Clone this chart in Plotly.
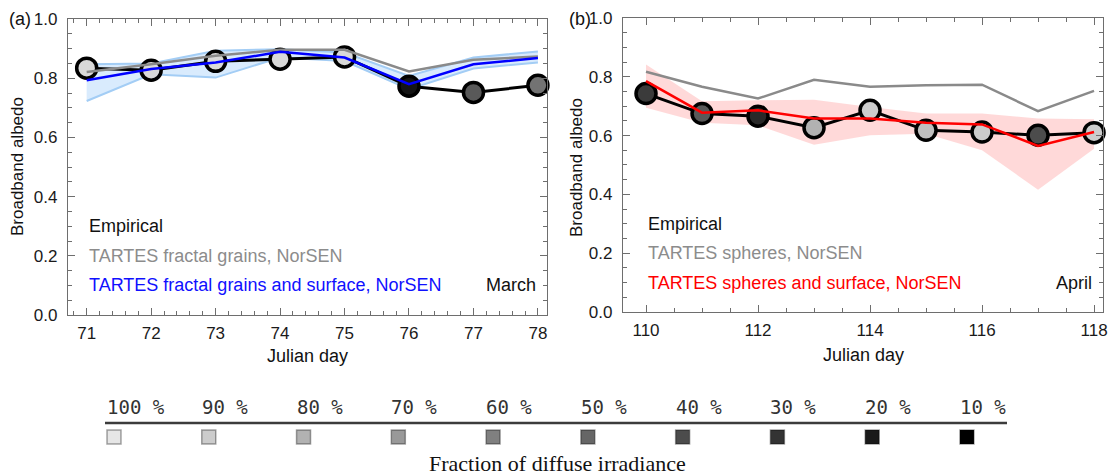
import plotly.graph_objects as go

# ---------------- data ----------------
days_a = [71, 72, 73, 74, 75, 76, 77, 78]
emp_a = [0.834, 0.827, 0.857, 0.864, 0.872, 0.773, 0.752, 0.776]
diffuse_a = [95, 95, 95, 95, 95, 18, 45, 55]
tartes_a = [0.821, 0.847, 0.876, 0.896, 0.896, 0.823, 0.862, 0.873]
surf_a = [0.793, 0.831, 0.853, 0.889, 0.870, 0.780, 0.847, 0.868]
surf_a_hi = [0.847, 0.850, 0.893, 0.898, 0.887, 0.808, 0.870, 0.890]
surf_a_lo = [0.723, 0.813, 0.802, 0.870, 0.858, 0.763, 0.833, 0.853]

days_b = [110, 111, 112, 113, 114, 115, 116, 117, 118]
emp_b = [0.743, 0.675, 0.666, 0.627, 0.686, 0.618, 0.612, 0.601, 0.610]
diffuse_b = [33, 45, 26, 80, 90, 85, 90, 40, 90]
tartes_b = [0.817, 0.766, 0.726, 0.790, 0.766, 0.771, 0.773, 0.683, 0.752]
surf_b = [0.785, 0.678, 0.686, 0.658, 0.658, 0.644, 0.638, 0.565, 0.612]
surf_b_hi = [0.842, 0.717, 0.720, 0.722, 0.697, 0.675, 0.675, 0.658, 0.656]
surf_b_lo = [0.695, 0.644, 0.635, 0.569, 0.601, 0.606, 0.550, 0.416, 0.555]

legend_fracs = [100, 90, 80, 70, 60, 50, 40, 30, 20, 10]
legend_labels = ["100 %", "90 %", "80 %", "70 %", "60 %", "50 %", "40 %", "30 %", "20 %", "10 %"]


def gray(frac):
    v = int(round(max(0, min(255, 255 * (frac - 10) / 100))))
    return f"rgb({v},{v},{v})"


SANS = "Liberation Sans, Arial, sans-serif"
fig = go.Figure()


def add_panel(xa, ya, days, emp, diff, tartes, surf, hi, lo, color, band_fill, band_line, band_w):
    fig.add_trace(go.Scatter(x=days, y=hi, mode="lines", xaxis=xa, yaxis=ya,
                             line=dict(color=band_line, width=band_w), showlegend=False, hoverinfo="skip"))
    fig.add_trace(go.Scatter(x=days, y=lo, mode="lines", xaxis=xa, yaxis=ya, fill="tonexty",
                             fillcolor=band_fill, line=dict(color=band_line, width=band_w),
                             showlegend=False, hoverinfo="skip"))
    fig.add_trace(go.Scatter(x=days, y=emp, mode="lines+markers", xaxis=xa, yaxis=ya,
                             line=dict(color="black", width=3),
                             marker=dict(size=20, color=[gray(f) for f in diff],
                                         line=dict(color="black", width=3.5)),
                             cliponaxis=False, showlegend=False))
    fig.add_trace(go.Scatter(x=days, y=tartes, mode="lines", xaxis=xa, yaxis=ya,
                             line=dict(color="#8a8a8a", width=2.5), showlegend=False))
    fig.add_trace(go.Scatter(x=days, y=surf, mode="lines", xaxis=xa, yaxis=ya,
                             line=dict(color=color, width=2.5), showlegend=False))


add_panel("x", "y", days_a, emp_a, diffuse_a, tartes_a, surf_a, surf_a_hi, surf_a_lo,
          "#0000ff", "rgba(170,210,250,0.45)", "#a3cdf5", 2)
add_panel("x2", "y2", days_b, emp_b, diffuse_b, tartes_b, surf_b, surf_b_hi, surf_b_lo,
          "#ff0000", "rgba(255,120,120,0.28)", "rgba(0,0,0,0)", 0)

# legend squares (fraction of diffuse irradiance)
fig.add_trace(go.Scatter(x=list(range(len(legend_fracs))), y=[0] * len(legend_fracs),
                         mode="markers", xaxis="x3", yaxis="y3",
                         marker=dict(symbol="square", size=14,
                                     color=[gray(f) for f in legend_fracs],
                                     line=dict(color="rgba(0,0,0,0.35)", width=1.5)),
                         showlegend=False, hoverinfo="skip"))

ax_common = dict(showline=True, linecolor="#6e6e6e", linewidth=1.3, mirror="allticks",
                 ticks="inside", ticklen=7, tickwidth=1.2, tickcolor="#6e6e6e",
                 showgrid=False, zeroline=False, automargin=False,
                 tickfont=dict(family=SANS, size=17, color="#1a1a1a"))

yax = dict(ax_common, range=[0, 1], dtick=0.2, tick0=0, tickformat=".1f",
           minor=dict(ticks="inside", ticklen=4, dtick=0.05, tickcolor="#6e6e6e", tickwidth=1),
           ticklabelstandoff=6)

fig.update_layout(
    width=1111, height=475,
    margin=dict(l=0, r=0, t=0, b=0, pad=0, autoexpand=False),
    paper_bgcolor="white", plot_bgcolor="white",
    xaxis=dict(ax_common, domain=[0.0612, 0.4923], range=[70.71, 78.14], dtick=1, tick0=71,
               minor=dict(ticks="inside", ticklen=4, dtick=0.2, tickcolor="#6e6e6e", tickwidth=1),
               anchor="y", ticklabelstandoff=2),
    yaxis=dict(yax, domain=[0.3368, 0.96], anchor="x"),
    xaxis2=dict(ax_common, domain=[0.5608, 0.9928], range=[109.59, 118.16], dtick=2, tick0=110,
                minor=dict(ticks="inside", ticklen=4, dtick=0.5, tickcolor="#6e6e6e", tickwidth=1),
                anchor="y2", ticklabelstandoff=2),
    yaxis2=dict(yax, domain=[0.3432, 0.9621], anchor="x2"),
    xaxis3=dict(domain=[0.05995, 0.9130], range=[-0.5, 9.5], visible=False, anchor="y3",
                automargin=False),
    yaxis3=dict(domain=[0.0589, 0.1011], range=[-1, 1], visible=False, anchor="x3",
                automargin=False),
)

ann = []
def txt(text, x, y, xref, yref, color="#111", size=18, xanchor="left", family=SANS, **kw):
    ann.append(dict(text=text, x=x, y=y, xref=xref, yref=yref, showarrow=False,
                    xanchor=xanchor, yanchor="middle",
                    font=dict(family=family, size=size, color=color), **kw))

# in-panel legend texts
txt("Empirical", 71, 0.30, "x", "y")
txt("TARTES fractal grains, NorSEN", 71, 0.20, "x", "y", color="#8c8c8c")
txt("TARTES fractal grains and surface, NorSEN", 71, 0.10, "x", "y", color="#1010ff")
txt("March", 78, 0.10, "x", "y", xanchor="right")
txt("Empirical", 110, 0.30, "x2", "y2")
txt("TARTES spheres, NorSEN", 110, 0.20, "x2", "y2", color="#8c8c8c")
txt("TARTES spheres and surface, NorSEN", 110, 0.10, "x2", "y2", color="#ff0000")
txt("April", 118, 0.10, "x2", "y2", xanchor="right")

# panel labels and axis titles
txt("(a)", 0.006, 1 - 19 / 475, "paper", "paper", size=18)
txt("(b)", 567 / 1111, 1 - 19 / 475, "paper", "paper", size=18)
txt("Julian day", (0.0612 + 0.4923) / 2, 1 - 356 / 475, "paper", "paper", xanchor="center")
txt("Julian day", (0.5608 + 0.9928) / 2, 1 - 355 / 475, "paper", "paper", xanchor="center")
txt("Broadband albedo", 18 / 1111, 1 - 167 / 475, "paper", "paper", size=17, xanchor="center", textangle=-90)
txt("Broadband albedo", 577 / 1111, 1 - 167 / 475, "paper", "paper", size=17, xanchor="center", textangle=-90)

# bottom legend labels
for i, lab in enumerate(legend_labels):
    txt(lab, i, 1 - 407 / 475, "x3", "paper", color="#333333", size=19,
        family="DejaVu Sans Mono, monospace", xshift=-9)
txt("Fraction of diffuse irradiance", 557 / 1111, 1 - 463 / 475, "paper", "paper",
    color="#111", size=22, xanchor="center", family="Liberation Serif, Times New Roman, serif")

fig.update_layout(annotations=ann)
fig.add_shape(type="line", xref="paper", yref="paper", x0=105 / 1111, x1=1007 / 1111,
              y0=1 - 423 / 475, y1=1 - 423 / 475, line=dict(color="#3c3c3c", width=2.5))

fig.write_html("out.html", config={"displayModeBar": False},
               post_script="document.body.style.margin='0px';document.body.style.padding='0px';"
                           "document.documentElement.style.overflow='hidden';")
